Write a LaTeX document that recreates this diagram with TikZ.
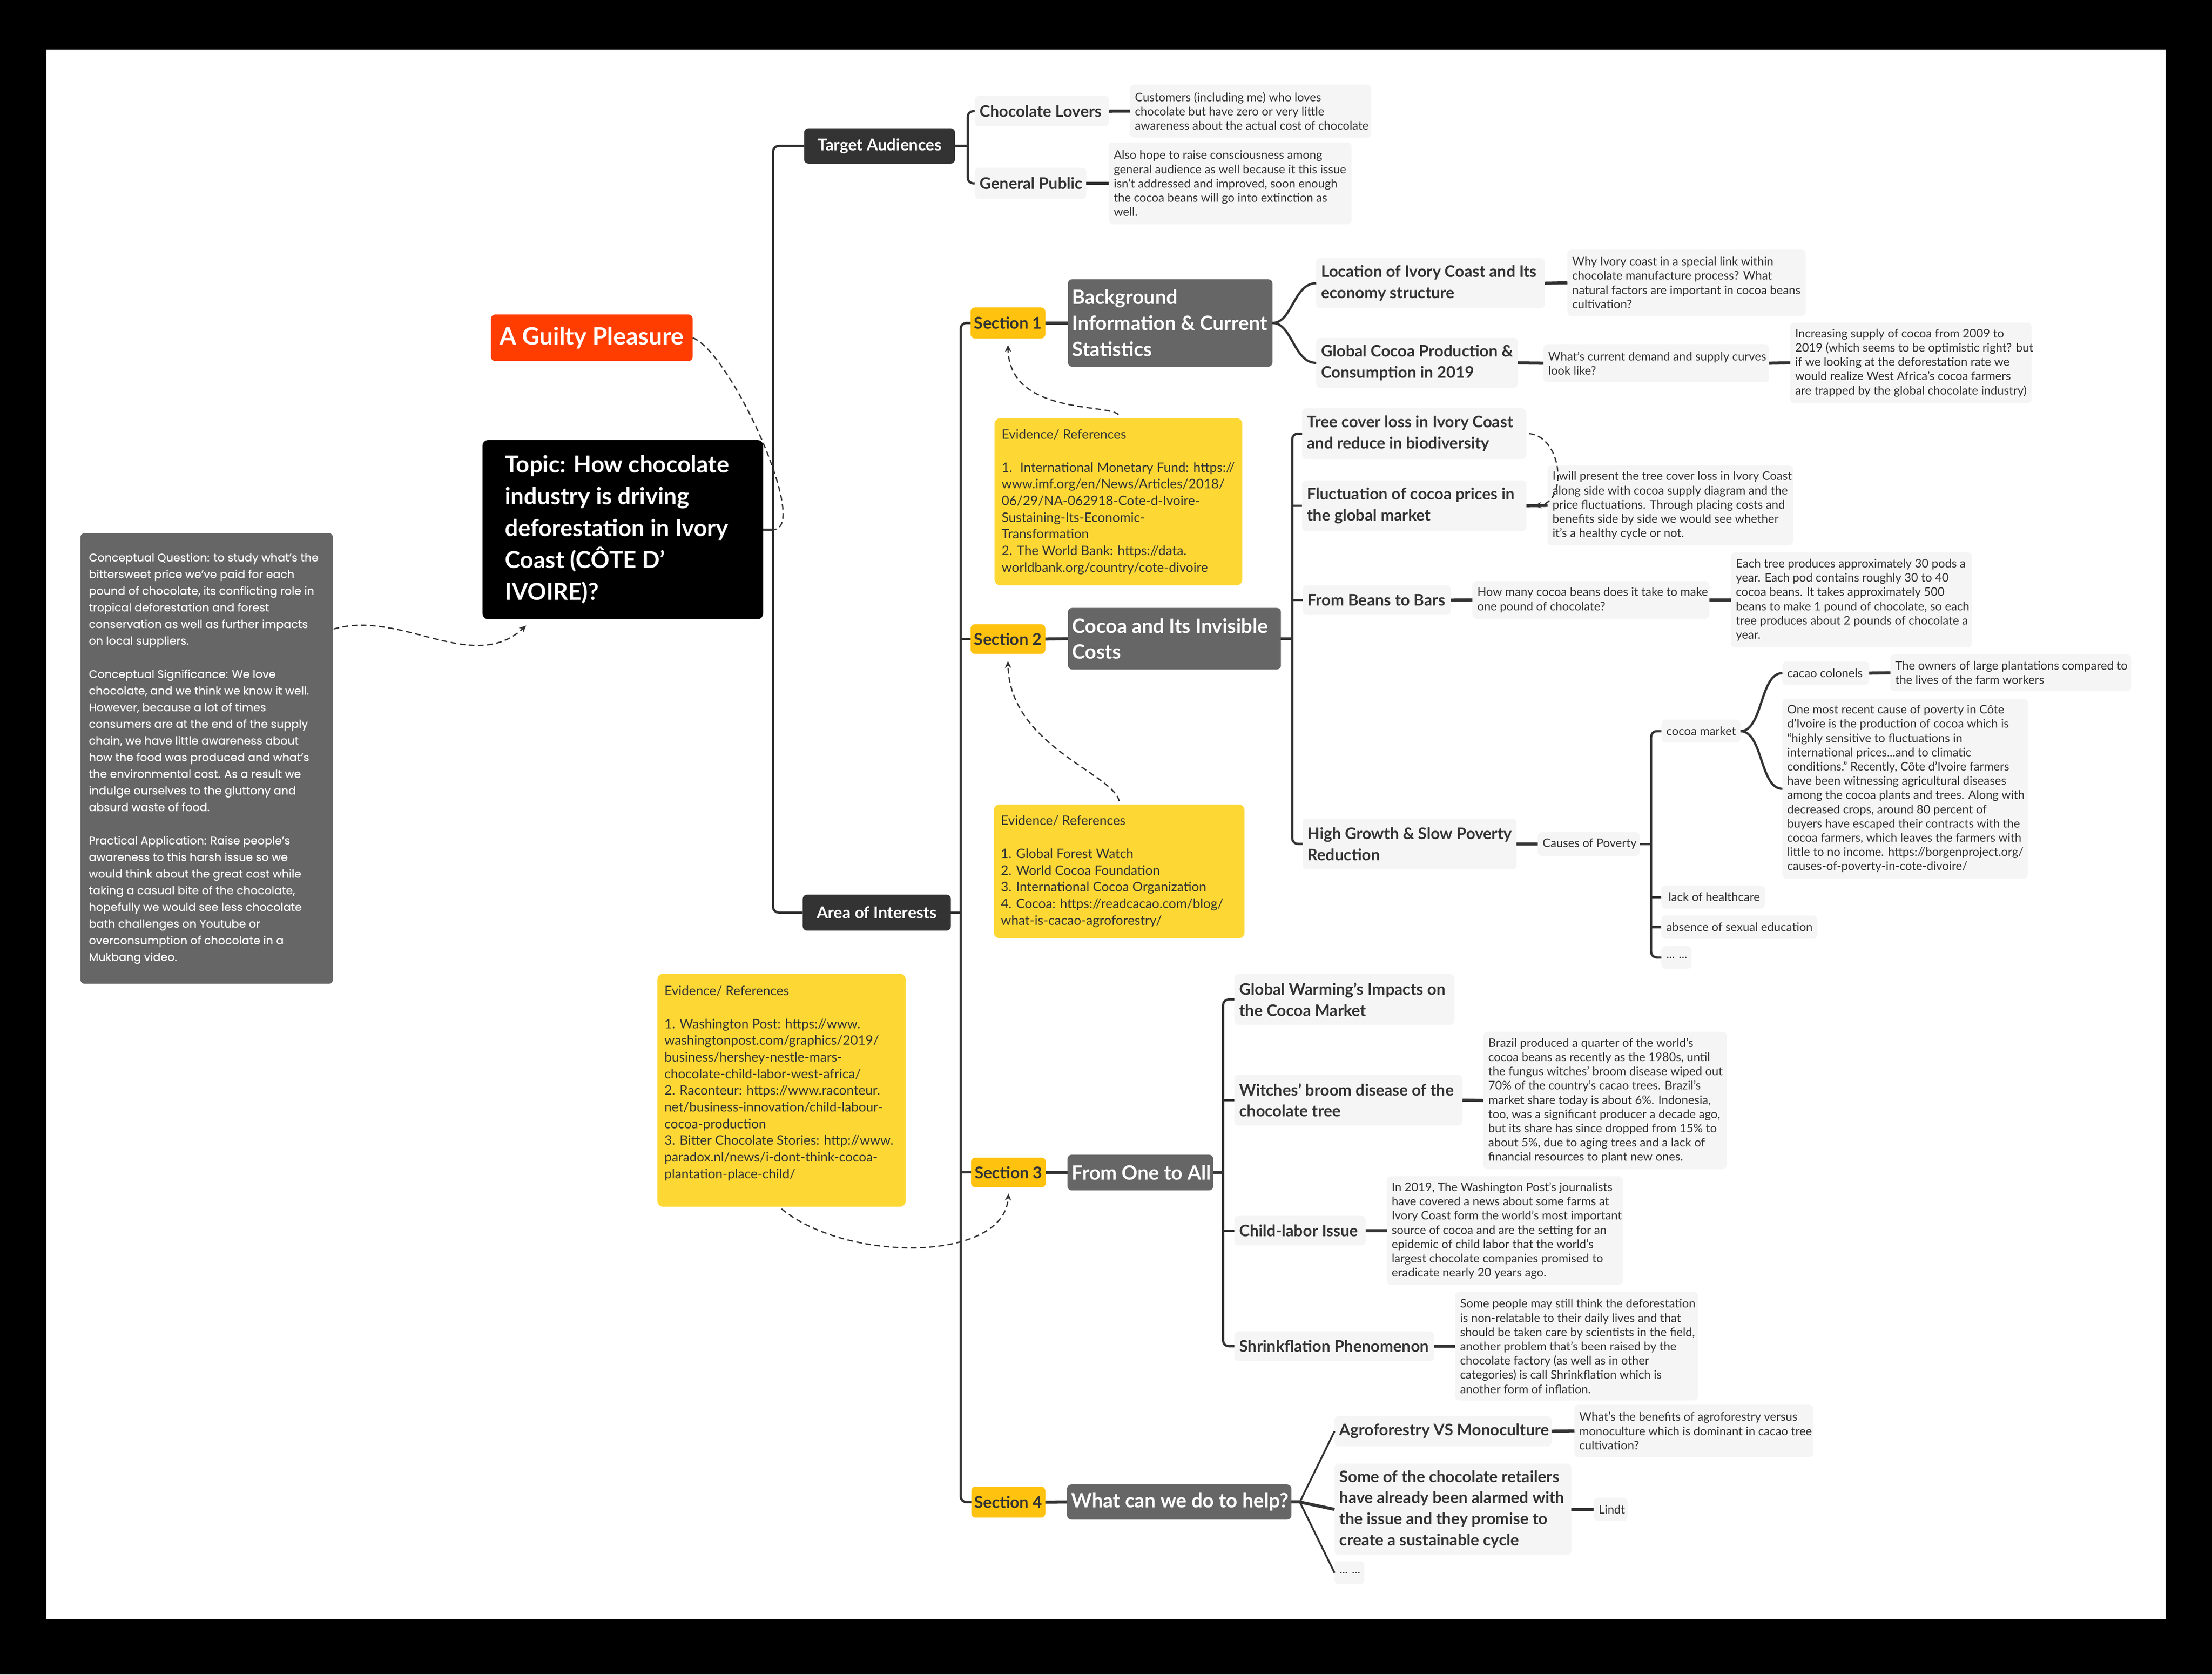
\documentclass[tikz,border=0pt]{standalone}
\usepackage{fontspec}
\setmainfont{Lato}
\newfontfamily\leftfont{Poppins}[FakeBold=0.5]
\usetikzlibrary{arrows.meta,calc}
\definecolor{dkc}{HTML}{333333}
\definecolor{grc}{HTML}{666666}
\definecolor{ltc}{HTML}{F5F5F5}
\definecolor{amb}{HTML}{FFC20E}
\definecolor{yel}{HTML}{FDD835}
\definecolor{org}{HTML}{FF3D00}
\definecolor{txc}{HTML}{333333}
\definecolor{lnc}{HTML}{333333}
\tikzset{
  boxbase/.style={inner sep=0pt, outer sep=0pt, rounded corners=3pt},
  txtbase/.style={inner xsep=3.5pt, inner ysep=0pt, outer sep=0pt, align=left},
  boxlight/.style={fill=ltc},
  boxgray/.style={fill=grc},
  boxdark/.style={fill=dkc},
  boxsec/.style={fill=amb},
  boxev/.style={fill=yel, rounded corners=4pt},
  boxtitle/.style={fill=org},
  boxtopic/.style={fill=black, rounded corners=4pt},
  fnote/.style={font=\fontsize{8.4}{10.1}\selectfont, text=txc},
  fhead/.style={font=\fontsize{11.3}{15}\selectfont\bfseries, text=txc},
  fltwo/.style={font=\fontsize{14}{18.4}\selectfont\bfseries, text=white},
  fev/.style={font=\fontsize{9.3}{11.8}\selectfont, text=txc},
  fsm/.style={font=\fontsize{8.4}{10}\selectfont, text=txc},
  fsec/.style={font=\fontsize{11.5}{13}\selectfont\bfseries, text=txc},
  fdark/.style={font=\fontsize{11.5}{13}\selectfont\bfseries, text=white},
  fttl/.style={font=\fontsize{17}{20}\selectfont\bfseries, text=white},
  ftopic/.style={font=\fontsize{16.5}{22.6}\selectfont\bfseries, text=white},
  fleft/.style={font=\leftfont\fontsize{7.9}{11.8}\selectfont, text=white},
  conn/.style={draw=lnc, line width=1.6pt, rounded corners=4pt},
  curv/.style={draw=lnc, line width=1.6pt},
  stub/.style={draw=lnc, line width=2.2pt},
  fan/.style={draw=lnc, line width=1.3pt},
  dsh/.style={draw=dkc, line width=0.9pt, dash pattern=on 4pt off 2.5pt},
  dsharr/.style={dsh, -{Stealth[length=5pt,width=4.5pt]}},
}
\newcommand\bx[8]{%
  \node[boxbase,#2,minimum width={#6-#4},minimum height={#7-#5},anchor=north west] (#1) at (#4,#5) {};
  \node[txtbase,#3,anchor=west] (#1-t) at (#1.west) {#8};}
\newcommand\bc[8]{%
  \node[boxbase,#2,minimum width={#6-#4},minimum height={#7-#5},anchor=north west] (#1) at (#4,#5) {};
  \node[txtbase,#3,align=center,anchor=center] (#1-t) at (#1.center) {#8};}
\begin{document}
\begin{tikzpicture}[x=1pt,y=-1pt]
\useasboundingbox (0,0) rectangle (1568,1187.4);
\fill[black] (0,0) rectangle (1568,1187.4);
\fill[white] (33,35) rectangle (1535,1148);

% ---------- nodes ----------
\bc{title}{boxtitle}{fttl}{348}{223}{491}{256}{A Guilty Pleasure}
\bx{topic}{boxtopic}{ftopic,inner xsep=16pt}{342}{312}{541}{439}{Topic: How chocolate\\industry is driving\\deforestation in Ivory\\Coast (CÔTE D'\\IVOIRE)?}
\bx{leftbox}{boxgray}{fleft,inner xsep=6pt}{57}{378}{236}{697.5}{Conceptual Question: to study what’s the\\bittersweet price we’ve paid for each\\pound of chocolate, its conflicting role in\\tropical deforestation and forest\\conservation as well as further impacts\\on local suppliers.\\[11.8pt]Conceptual Significance: We love\\chocolate, and we think we know it well.\\However, because a lot of times\\consumers are at the end of the supply\\chain, we have little awareness about\\how the food was produced and what’s\\the environmental cost. As a result we\\indulge ourselves to the gluttony and\\absurd waste of food.\\[11.8pt]Practical Application: Raise people’s\\awareness to this harsh issue so we\\would think about the great cost while\\taking a casual bite of the chocolate,\\hopefully we would see less chocolate\\bath challenges on Youtube or\\overconsumption of chocolate in a\\Mukbang video.}
\bc{target}{boxdark}{fdark}{570}{91}{677}{116}{Target Audiences}
\bc{area}{boxdark}{fdark}{569}{634.3}{674}{659.8}{Area of Interests}
\bx{clovers}{boxlight}{fhead}{691}{68}{786}{89.6}{Chocolate Lovers}
\bx{clnote}{boxlight}{fnote}{801}{60}{972}{97.5}{Customers (including me) who loves\\chocolate but have zero or very little\\awareness about the actual cost of chocolate}
\bx{gpublic}{boxlight}{fhead}{691}{119}{770}{141}{General Public}
\bx{gpnote}{boxlight}{fnote}{786}{101}{958}{159}{Also hope to raise consciousness among\\general audience as well because it this issue\\isn't addressed and improved, soon enough\\the cocoa beans will go into extinction as\\well.}
% Section 1
\bc{sec1}{boxsec}{fsec}{688}{218}{741}{240}{Section 1}
\bx{bg}{boxgray}{fltwo,inner xsep=3pt}{757}{198}{902}{260}{Background\\Information \& Current\\Statistics}
\bx{loc}{boxlight}{fhead}{933}{183}{1095}{218.6}{Location of Ivory Coast and Its\\economy structure}
\bx{locnote}{boxlight}{fnote}{1111}{177}{1280}{224}{Why Ivory coast in a special link within\\chocolate manufacture process? What\\natural factors are important in cocoa beans\\cultivation?}
\bx{glob}{boxlight}{fhead}{933}{239.6}{1076}{275}{Global Cocoa Production \&\\Consumption in 2019}
\bx{demand}{boxlight}{fnote}{1094}{244}{1254}{271}{What's current demand and supply curves\\look like?}
\bx{incr}{boxlight}{fnote}{1269}{228.7}{1440}{285.8}{Increasing supply of cocoa from 2009 to\\2019 (which seems to be optimistic right? but\\if we looking at the deforestation rate we\\would realize West Africa's cocoa farmers\\are trapped by the global chocolate industry)}
\bx{evone}{boxev}{fev,inner xsep=5pt}{705}{296.5}{880.6}{415}{Evidence/ References\\[11.8pt]1.~ International Monetary Fund: https://\\www.imf.org/en/News/Articles/2018/\\06/29/NA-062918-Cote-d-Ivoire-\\Sustaining-Its-Economic-\\Transformation\\2. The World Bank: https://data.\\worldbank.org/country/cote-divoire}
% Section 2
\bc{sec2}{boxsec}{fsec}{688}{442.6}{741}{463.6}{Section 2}
\bx{cocoa}{boxgray}{fltwo,inner xsep=3pt}{757}{431}{908}{474.7}{Cocoa and Its Invisible\\Costs}
\bx{tree}{boxlight}{fhead}{923}{289.5}{1082}{325.4}{Tree cover loss in Ivory Coast\\and reduce in biodiversity}
\bx{fluct}{boxlight}{fhead}{923}{340.6}{1082}{376.5}{Fluctuation of cocoa prices in\\the global market}
\bx{fluctnote}{boxlight}{fnote}{1097}{330}{1271}{386.7}{I will present the tree cover loss in Ivory Coast\\along side with cocoa supply diagram and the\\price fluctuations. Through placing costs and\\benefits side by side we would see whether\\it's a healthy cycle or not.}
\bx{beans}{boxlight}{fhead}{923.4}{415}{1028.5}{436}{From Beans to Bars}
\bx{howmany}{boxlight}{fnote}{1043.7}{412}{1211.7}{438.7}{How many cocoa beans does it take to make\\one pound of chocolate?}
\bx{eachtree}{boxlight}{fnote}{1227}{391.7}{1398}{459}{Each tree produces approximately 30 pods a\\year. Each pod contains roughly 30 to 40\\cocoa beans. It takes approximately 500\\beans to make 1 pound of chocolate, so each\\tree produces about 2 pounds of chocolate a\\year.}
\bx{high}{boxlight}{fhead}{923.4}{580.4}{1075}{616.3}{High Growth \& Slow Poverty\\Reduction}
\bx{causes}{boxlight}{fsm}{1090}{590}{1162.4}{606.8}{Causes of Poverty}
\bx{cmarket}{boxlight}{fsm}{1177.7}{510.3}{1233.7}{526.5}{cocoa market}
\bx{colonels}{boxlight}{fsm}{1263.4}{469}{1325}{485.5}{cacao colonels}
\bx{owners}{boxlight}{fnote}{1340}{464}{1510.7}{490}{The owners of large plantations compared to\\the lives of the farm workers}
\bx{recent}{boxlight}{fnote}{1263.4}{495.5}{1437.4}{623}{One most recent cause of poverty in Côte\\d'Ivoire is the production of cocoa which is\\“highly sensitive to fluctuations in\\international prices...and to climatic\\conditions." Recently, Côte d'Ivoire farmers\\have been witnessing agricultural diseases\\among the cocoa plants and trees. Along with\\decreased crops, around 80 percent of\\buyers have escaped their contracts with the\\cocoa farmers, which leaves the farmers with\\little to no income. https://borgenproject.org/\\causes-of-poverty-in-cote-divoire/}
\bx{health}{boxlight}{fsm,inner xsep=5pt}{1177.7}{627.8}{1251}{644.2}{lack of healthcare}
\bx{absence}{boxlight}{fsm}{1177.7}{649}{1288.2}{665.6}{absence of sexual education}
\bx{dotstwo}{boxlight}{fsm}{1177.7}{670.8}{1199}{687}{... ...}
\bx{evtwo}{boxev}{fev,inner xsep=5pt}{704.5}{570.4}{882.2}{665.2}{Evidence/ References\\[11.8pt]1. Global Forest Watch\\2. World Cocoa Foundation\\3. International Cocoa Organization\\4. Cocoa: https://readcacao.com/blog/\\what-is-cacao-agroforestry/}
% Section 3
\bx{evthree}{boxev}{fev,inner xsep=5pt}{466}{690.4}{642}{855.6}{Evidence/ References\\[11.8pt]1. Washington Post: https://www.\\washingtonpost.com/graphics/2019/\\business/hershey-nestle-mars-\\chocolate-child-labor-west-africa/\\2. Raconteur: https://www.raconteur.\\net/business-innovation/child-labour-\\cocoa-production\\3. Bitter Chocolate Stories: http://www.\\paradox.nl/news/i-dont-think-cocoa-\\plantation-place-child/\\ \mbox{}}
\bc{sec3}{boxsec}{fsec}{688.3}{820.8}{741.4}{841.7}{Section 3}
\bx{one}{boxgray}{fltwo,inner xsep=3pt}{756.7}{818.7}{860}{844}{From One to All}
\bx{gw}{boxlight}{fhead}{875}{690.6}{1031}{726.6}{Global Warming's Impacts on\\the Cocoa Market}
\bx{witch}{boxlight}{fhead}{875}{762}{1036.6}{798}{Witches' broom disease of the\\chocolate tree}
\bx{brazil}{boxlight}{fnote}{1051.5}{731.5}{1224}{829}{Brazil produced a quarter of the world's\\cocoa beans as recently as the 1980s, until\\the fungus witches' broom disease wiped out\\70\% of the country's cacao trees. Brazil's\\market share today is about 6\%. Indonesia,\\too, was a significant producer a decade ago,\\but its share has since dropped from 15\% to\\about 5\%, due to aging trees and a lack of\\financial resources to plant new ones.}
\bx{child}{boxlight}{fhead}{875}{862}{968}{883}{Child-labor Issue}
\bx{childnote}{boxlight}{fnote}{983}{834}{1150.4}{911}{In 2019, The Washington Post's journalists\\have covered a news about some farms at\\Ivory Coast form the world's most important\\source of cocoa and are the setting for an\\epidemic of child labor that the world's\\largest chocolate companies promised to\\eradicate nearly 20 years ago.}
\bx{shrink}{boxlight}{fhead}{875}{944}{1016.5}{965}{Shrinkflation Phenomenon}
\bx{shrinknote}{boxlight}{fnote}{1031.5}{916}{1203.6}{993}{Some people may still think the deforestation\\is non-relatable to their daily lives and that\\should be taken care by scientists in the field,\\another problem that's been raised by the\\chocolate factory (as well as in other\\categories) is call Shrinkflation which is\\another form of inflation.}
% Section 4
\bc{sec4}{boxsec}{fsec}{688.5}{1054}{741}{1076}{Section 4}
\bx{what}{boxgray}{fltwo,inner xsep=3pt}{756.4}{1052.5}{915.4}{1077.4}{What can we do to help?}
\bx{agro}{boxlight}{fhead}{946}{1004}{1099.8}{1025.5}{Agroforestry VS Monoculture}
\bx{agronote}{boxlight}{fnote}{1116}{996}{1285.5}{1033}{What's the benefits of agroforestry versus\\monoculture which is dominant in cacao tree\\cultivation?}
\bx{some}{boxlight}{fhead}{946}{1037.8}{1113.8}{1102.5}{Some of the chocolate retailers\\have already been alarmed with\\the issue and they promise to\\create a sustainable cycle}
\bx{lindt}{boxlight}{fsm}{1129.7}{1061.9}{1153.7}{1078.3}{Lindt}
\bx{dotsfour}{boxlight}{fsm}{946}{1107}{967}{1123.3}{... ...}

% ---------- connectors ----------
\coordinate (sm) at ($(topic.east)+(7,0)$);
\draw[conn] (target.west) -| (sm) |- (area.west);
\draw[conn] (topic.east) -- (sm);

\coordinate (st) at ($(target.east)+(9,0)$);
\draw[conn] (clovers.west) -| (st) |- (gpublic.west);
\draw[conn] (target.east) -- (st);
\draw[stub] (clovers.east) -- (clnote.west);
\draw[stub] (gpublic.east) -- (gpnote.west);

\coordinate (sa) at ($(area.east)+(7,0)$);
\draw[conn] (sec1.west) -| (sa) |- (sec4.west);
\draw[conn] (area.east) -- (sa);
\draw[conn] (sec2.west) -- (sec2.west -| sa);
\draw[conn] (sec3.west) -- (sec3.west -| sa);

\draw[stub] (sec1.east) -- (bg.west);
\draw[stub] (sec2.east) -- (cocoa.west);
\draw[stub] (sec3.east) -- (one.west);
\draw[stub] (sec4.east) -- (what.west);

\draw[curv] (bg.east) .. controls +(14,0) and +(-16,0) .. (loc.west);
\draw[curv] (bg.east) .. controls +(14,0) and +(-16,0) .. (glob.west);
\draw[stub] (loc.east) -- (locnote.west);
\draw[stub] (glob.east) -- (demand.west);
\draw[stub] (demand.east) -- (incr.west);

\coordinate (s2) at ($(cocoa.east)+(8,0)$);
\draw[conn] (tree.west) -| (s2) |- (high.west);
\draw[conn] (cocoa.east) -- (s2);
\draw[conn] (fluct.west) -- (fluct.west -| s2);
\draw[conn] (beans.west) -- (beans.west -| s2);
\draw[stub] (fluct.east) -- (fluctnote.west);
\draw[stub] (beans.east) -- (howmany.west);
\draw[stub] (howmany.east) -- (eachtree.west);
\draw[stub] (high.east) -- (causes.west);

\coordinate (sc) at ($(causes.east)+(8,0)$);
\draw[conn] (cmarket.west) -| (sc) |- (dotstwo.west);
\draw[conn] (causes.east) -- (sc);
\draw[conn] (health.west) -- (health.west -| sc);
\draw[conn] (absence.west) -- (absence.west -| sc);
\draw[curv] (cmarket.east) .. controls +(16,0) and +(-16,0) .. (colonels.west);
\draw[curv] (cmarket.east) .. controls +(16,0) and +(-16,0) .. (recent.west);
\draw[stub] (colonels.east) -- (owners.west);

\coordinate (s3) at ($(one.east)+(7,0)$);
\draw[conn] (gw.west) -| (s3) |- (shrink.west);
\draw[conn] (one.east) -- (s3);
\draw[conn] (witch.west) -- (witch.west -| s3);
\draw[conn] (child.west) -- (child.west -| s3);
\draw[stub] (witch.east) -- (brazil.west);
\draw[stub] (child.east) -- (childnote.west);
\draw[stub] (shrink.east) -- (shrinknote.west);

\coordinate (s4) at ($(what.east)+(6,0)$);
\draw[stub] (what.east) -- (s4);
\draw[fan] (s4) -- (agro.west);
\draw[stub] (s4) -- (some.west);
\draw[fan] (s4) -- (dotsfour.west);
\draw[stub] (agro.east) -- (agronote.west);
\draw[stub] (some.east) -- (lindt.west);

% ---------- dashed relations ----------
\draw[dsh] (title.east) .. controls +(27,10) and +(27,0) .. (sm);
\draw[dsharr] ($(leftbox.north east)+(0.5,68)$) .. controls +(48,-14) and +(-38,35) .. ($(topic.south west)+(31,4.5)$);
\draw[dsharr] ($(evone.north)+(0,-2.5)$) .. controls +(-7,-8) and +(1,50) .. ($(sec1.south)+(0,4.5)$);
\draw[dsharr] ($(evtwo.north)+(0,-2.5)$) .. controls +(-5,-20) and +(1,60) .. ($(sec2.south)+(0,5)$);
\draw[dsharr] ($(evthree.south)+(0,1.5)$) .. controls +(46,38) and +(-3,49) .. ($(sec3.south)+(0,4.5)$);
\draw[dsharr] ($(tree.east)+(2,0)$) .. controls +(24,2.5) and +(24,-1.6) .. ($(fluct.east)+(5.5,0)$);
\end{tikzpicture}
\end{document}
